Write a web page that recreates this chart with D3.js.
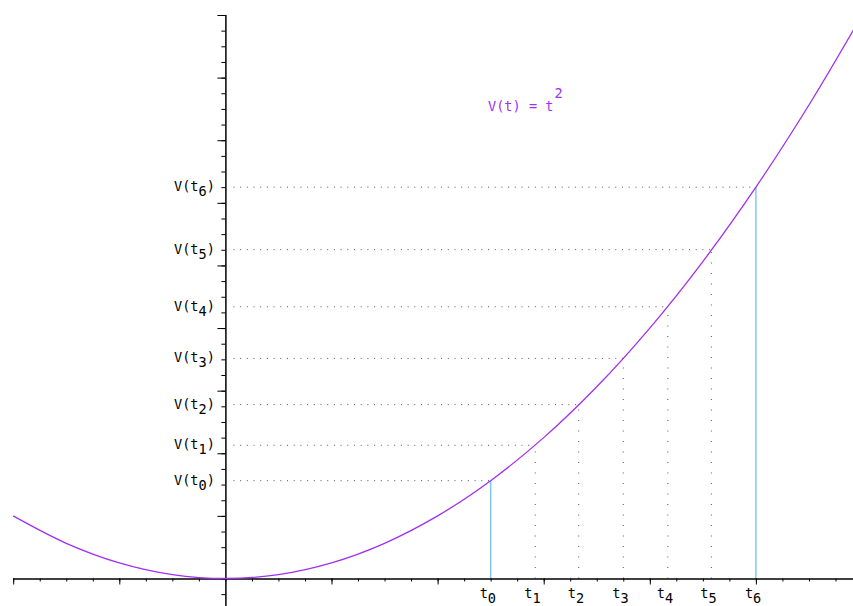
<!DOCTYPE html>
<html>
<head>
<meta charset="utf-8">
<script src="https://cdn.jsdelivr.net/npm/d3@7"></script>
<style>
  body { margin: 0; background: #fff; }
  svg { display: block; }
  text { font-family: "DejaVu Sans Mono", "Liberation Mono", monospace; font-size: 13.6px; }
</style>
</head>
<body>
<svg id="chart"></svg>
<script>
var width = 853, height = 606

// curve samples (t, V)
var curveT = [-2, -1.5, -1, -0.5, 0, 0.5, 1, 1.5, 2, 2.5, 3, 3.5, 4, 4.5, 5, 5.5, 5.95]
var curveV = [4, 2.25, 1, 0.25, 0, 0.25, 1, 2.25, 4, 6.25, 9, 12.25, 16, 20.25, 25, 30.25, 35.4]

// marked instants t0..t6 and their values
var markT = [2.5, 2.92, 3.33, 3.75, 4.17, 4.58, 5]
var markV = [6.25, 8.51, 11.11, 14.06, 17.36, 21.01, 25]
var markSub = ["0", "1", "2", "3", "4", "5", "6"]

// axis ticks
var xMinor = d3.range(-8, 25).map(d => d / 4)
var xMajor = [-2, -1, 1, 2, 3, 4, 5, 6]
var yMinor = d3.range(-1, 37)
var yMajor = [4, 8, 12, 16, 20, 24, 28, 32, 36]

var x = d3.scaleLinear().domain([-2, 6]).range([13.2, 862])
var y = d3.scaleLinear().domain([0, 36]).range([578.5, 15])

var svg = d3.select("#chart")
  .attr("width", width)
  .attr("height", height)

// guide lines
var guides = svg.append("g")
markT.forEach(function(t, i) {
  guides.append("line")
    .attr("x1", x(0) + 8).attr("x2", x(t))
    .attr("y1", y(markV[i])).attr("y2", y(markV[i]))
    .attr("stroke", "#555")
    .attr("stroke-dasharray", "1,5.7")
  var edge = (i == 0 || i == markT.length - 1)
  guides.append("line")
    .attr("x1", x(t)).attr("x2", x(t))
    .attr("y1", y(0)).attr("y2", y(markV[i]))
    .attr("stroke", edge ? "#80c8f0" : "#555")
    .attr("stroke-width", edge ? 1.5 : 1)
    .attr("stroke-dasharray", edge ? null : "1,9.5")
})

// x axis
svg.append("g")
  .attr("transform", "translate(0," + y(0) + ")")
  .call(d3.axisBottom(x).tickValues(xMinor).tickSize(3).tickSizeOuter(0).tickFormat(""))
  .call(g => g.select(".domain").attr("d", "M" + x(-2) + ",0.5H" + width).attr("stroke-width", 1.5))
svg.append("g")
  .attr("transform", "translate(0," + y(0) + ")")
  .call(d3.axisBottom(x).tickValues(xMajor).tickSize(6).tickFormat(""))
  .call(g => g.select(".domain").remove())

// y axis
svg.append("g")
  .attr("transform", "translate(" + x(0) + ",0)")
  .call(d3.axisLeft(y).tickValues(yMinor).tickSize(4).tickFormat(""))
  .call(g => g.select(".domain").attr("d", "M0.5," + y(36) + "V" + height).attr("stroke-width", 1.5))
svg.append("g")
  .attr("transform", "translate(" + x(0) + ",0)")
  .call(d3.axisLeft(y).tickValues(yMajor).tickSize(8).tickFormat(""))
  .call(g => g.select(".domain").remove())

// curve
var pts = curveT.map((t, i) => [t, curveV[i]])
svg.append("path")
  .datum(pts)
  .attr("fill", "none")
  .attr("stroke", "#a030f0")
  .attr("stroke-width", 1.3)
  .attr("d", d3.line().x(d => x(d[0])).y(d => y(d[1])).curve(d3.curveCatmullRom))

// tick labels t_i
markT.forEach(function(t, i) {
  var lab = svg.append("text")
    .attr("x", x(t) - 11)
    .attr("y", 598)
    .attr("fill", "#000")
  lab.append("tspan").text("t")
  lab.append("tspan").attr("dy", 5).text(markSub[i])
})

// value labels V(t_i)
markV.forEach(function(v, i) {
  var lab = svg.append("text")
    .attr("x", 174)
    .attr("y", y(v) + 4)
    .attr("fill", "#000")
  lab.append("tspan").text("V(t")
  lab.append("tspan").attr("dy", 5).text(markSub[i])
  lab.append("tspan").attr("dy", -5).text(")")
})

// function label
var title = svg.append("text")
  .attr("x", 488)
  .attr("y", 111)
  .attr("fill", "#a030f0")
title.append("tspan").text("V(t) = t")
title.append("tspan").attr("dy", -13).attr("dx", 1).text("2")
</script>
</body>
</html>
